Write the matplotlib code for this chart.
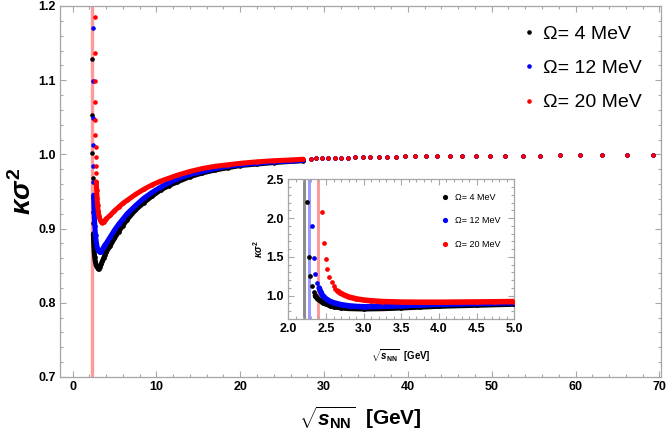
import matplotlib
matplotlib.use("Agg")
import matplotlib.pyplot as plt
from matplotlib.ticker import MultipleLocator, FormatStrFormatter

plt.rcParams['font.family'] = ['Liberation Sans', 'DejaVu Sans']
plt.rcParams['font.weight'] = 'bold'
plt.rcParams['axes.labelweight'] = 'bold'
plt.rcParams['mathtext.fontset'] = 'custom'
plt.rcParams['mathtext.rm'] = 'Liberation Sans:bold'
plt.rcParams['mathtext.it'] = 'Liberation Sans:italic:bold'
plt.rcParams['mathtext.bf'] = 'Liberation Sans:bold'

# ---- main panel data ----
labels = ['Ω= 4 MeV', 'Ω= 12 MeV', 'Ω= 20 MeV']
colors = ['black', 'blue', 'red']
crit_x = [2.21, 2.28, 2.40]          # vertical lines
crit_colors = ['#8c8c8c', '#9a9aff', '#ff9a9a']

# steep branch near the vertical line (separate dots)
black_steep_x = [2.36, 2.37, 2.37, 2.39, 2.40, 2.42, 2.45, 2.48]
black_steep_y = [1.129, 1.053, 1.002, 0.968, 0.942, 0.923, 0.907, 0.893]
blue_steep_x = [2.45, 2.42, 2.43, 2.45, 2.46, 2.48, 2.51]
blue_steep_y = [1.171, 1.099, 1.049, 1.012, 0.985, 0.963, 0.945]
red_steep_x = [2.64, 2.66, 2.68, 2.69, 2.71, 2.72, 2.74, 2.76, 2.78, 2.80, 2.83]
red_steep_y = [1.185, 1.137, 1.099, 1.070, 1.046, 1.026, 1.010, 0.997, 0.985,
               0.975, 0.963]

# dense part around the dip
black_dip_x = [2.48, 2.52, 2.57, 2.63, 2.70, 2.80, 2.92, 3.05, 3.12, 3.25,
               3.4, 3.55, 3.7, 3.85]
black_dip_y = [0.893, 0.881, 0.870, 0.862, 0.856, 0.851, 0.848, 0.846, 0.846,
               0.848, 0.852, 0.856, 0.860, 0.864]
blue_dip_x = [2.51, 2.55, 2.60, 2.66, 2.74, 2.84, 2.96, 3.1, 3.24, 3.4, 3.55,
              3.7, 3.85]
blue_dip_y = [0.945, 0.930, 0.916, 0.903, 0.891, 0.881, 0.874, 0.870, 0.868,
              0.869, 0.872, 0.875, 0.878]
red_dip_x = [2.83, 2.87, 2.92, 2.98, 3.05, 3.15, 3.28, 3.42, 3.55, 3.7, 3.85]
red_dip_y = [0.963, 0.952, 0.941, 0.932, 0.924, 0.917, 0.912, 0.909, 0.908,
             0.909, 0.911]

# rising part, common abscissa
rise_x = [4.0, 4.5, 5.0, 5.5, 6.0, 6.5, 7.5, 8.5, 9.5, 10.5, 11.5, 12.5, 14,
          15.5, 17, 18.5, 20, 22, 24, 26, 27.5]
black_rise_y = [0.868, 0.877, 0.887, 0.896, 0.904, 0.912, 0.925, 0.935, 0.944,
                0.952, 0.958, 0.963, 0.970, 0.975, 0.979, 0.982, 0.985, 0.987,
                0.989, 0.9905, 0.9915]
blue_rise_y = [0.880, 0.889, 0.898, 0.906, 0.913, 0.920, 0.931, 0.941, 0.949,
               0.956, 0.962, 0.967, 0.973, 0.977, 0.981, 0.984, 0.986, 0.988,
               0.990, 0.991, 0.992]
red_rise_y = [0.913, 0.918, 0.924, 0.929, 0.934, 0.938, 0.946, 0.953, 0.959,
              0.964, 0.968, 0.972, 0.977, 0.981, 0.984, 0.986, 0.988, 0.990,
              0.9915, 0.9925, 0.9935]

# tail: the three series sit on top of each other
tail_x = [28.4, 29.1, 29.8, 30.5, 31.3, 32.0, 32.8, 33.7, 34.6, 35.5, 36.5,
          37.5, 38.6, 39.7, 40.9, 42.2, 43.5, 45.0, 46.5, 48.1, 49.8, 51.6,
          53.7, 55.8, 58.1, 60.5, 63.2, 66.1, 69.3]
tail_y = [0.9942, 0.9945, 0.9948, 0.995, 0.9952, 0.9955, 0.9957, 0.996,
          0.9962, 0.9964, 0.9966, 0.9968, 0.997, 0.9972, 0.9974, 0.9975,
          0.9977, 0.9978, 0.998, 0.9981, 0.9982, 0.9983, 0.9984, 0.9985,
          0.9986, 0.9987, 0.9988, 0.9989, 0.999]

# ---- inset data ----
in_black_steep_x = [2.244, 2.275, 2.29, 2.31, 2.335, 2.36]
in_black_steep_y = [2.21, 1.50, 1.25, 1.12, 1.05, 1.00]
in_black_x = [2.36, 2.39, 2.42, 2.46, 2.51, 2.56, 2.6, 2.7, 2.8, 3.0, 3.25,
              3.5, 3.75, 4.0, 4.5, 5.0]
in_black_y = [1.00, 0.96, 0.94, 0.91, 0.89, 0.872, 0.86, 0.845, 0.837, 0.832,
              0.836, 0.845, 0.856, 0.867, 0.880, 0.893]
in_blue_steep_x = [2.31, 2.34, 2.36, 2.385, 2.41]
in_blue_steep_y = [1.90, 1.48, 1.28, 1.17, 1.10]
in_blue_x = [2.41, 2.43, 2.45, 2.5, 2.55, 2.6, 2.7, 2.8, 2.9, 3.0, 3.25, 3.5,
             3.75, 4.0, 4.5, 5.0]
in_blue_y = [1.10, 1.05, 1.01, 0.96, 0.93, 0.91, 0.885, 0.87, 0.862, 0.858,
             0.862, 0.871, 0.880, 0.889, 0.900, 0.910]
in_red_steep_x = [2.45, 2.48, 2.50, 2.52, 2.545, 2.575, 2.60, 2.625, 2.655]
in_red_steep_y = [2.08, 1.68, 1.47, 1.34, 1.245, 1.18, 1.13, 1.09, 1.06]
in_red_x = [2.655, 2.69, 2.75, 2.8, 2.9, 3.0, 3.1, 3.25, 3.5, 3.75, 4.0, 4.25,
            4.5, 4.75, 5.0]
in_red_y = [1.06, 1.035, 1.005, 0.985, 0.96, 0.945, 0.935, 0.925, 0.918, 0.916,
            0.916, 0.918, 0.920, 0.922, 0.925]

frame_col = '#a6a6a6'


def style_axes(ax, xmaj, xmin, ymaj, ymin, fs):
    for s in ax.spines.values():
        s.set_color(frame_col)
        s.set_linewidth(0.9)
    ax.xaxis.set_major_locator(MultipleLocator(xmaj))
    ax.xaxis.set_minor_locator(MultipleLocator(xmin))
    ax.yaxis.set_major_locator(MultipleLocator(ymaj))
    ax.yaxis.set_minor_locator(MultipleLocator(ymin))
    ax.tick_params(which='both', direction='in', top=True, right=True,
                   color=frame_col, width=0.8, labelsize=fs, pad=3)
    ax.tick_params(which='major', length=4)
    ax.tick_params(which='minor', length=2.5)


fig = plt.figure(figsize=(6.67, 4.45), dpi=100)
ax = fig.add_axes([60 / 667, 1 - 377 / 445, 601 / 667, 371 / 445])

# in the main panel only the last (red) band is visible
ax.axvline(crit_x[2] - 0.08, color=crit_colors[2], lw=2.4, zorder=1)

ms = 3.3
series = [
    (black_steep_x, black_steep_y, black_dip_x, black_dip_y, black_rise_y),
    (blue_steep_x, blue_steep_y, blue_dip_x, blue_dip_y, blue_rise_y),
    (red_steep_x, red_steep_y, red_dip_x, red_dip_y, red_rise_y),
]
for (sx, sy, dx, dy, ry), col, lab in zip(series, colors, labels):
    bx = dx + rise_x
    by = dy + ry
    ax.plot(bx, by, '-', color=col, lw=3.6, solid_capstyle='round', zorder=3)
    ax.plot(sx + bx + tail_x, sy + by + tail_y, 'o', color=col, ms=ms,
            mew=0, zorder=3, label=lab)

ax.set_xlim(-1.5, 70.2)
ax.set_ylim(0.7, 1.2)
style_axes(ax, 10, 2, 0.1, 0.02, 9)
ax.yaxis.set_major_formatter(FormatStrFormatter('%.1f'))
ax.set_ylabel(r'$\kappa\sigma^2$', fontsize=20, labelpad=1)
ax.set_xlabel(r'$\sqrt{s_{\rm NN}}$  [GeV]', fontsize=15, labelpad=8)

ax.legend(loc='upper right', frameon=False, prop={'size': 14,
          'weight': 'normal'}, handlelength=0.6, handletextpad=0.4,
          labelspacing=0.85, markerscale=1.0, borderaxespad=0.6)

# ---- inset ----
ins = fig.add_axes([288.3 / 667, 1 - 319 / 445, 226 / 667, 139.7 / 445])
for cx, cc in zip(crit_x, crit_colors):
    ins.axvline(cx, color=cc, lw=2.2, zorder=1)

ims = 3.4
inset_series = [
    (in_black_steep_x, in_black_steep_y, in_black_x, in_black_y),
    (in_blue_steep_x, in_blue_steep_y, in_blue_x, in_blue_y),
    (in_red_steep_x, in_red_steep_y, in_red_x, in_red_y),
]
for (sx, sy, dx, dy), col, lab in zip(inset_series, colors, labels):
    ins.plot(dx, dy, '-', color=col, lw=4.0, solid_capstyle='round', zorder=3)
    ins.plot(sx + dx, sy + dy, 'o', color=col, ms=ims, mew=0, zorder=3,
             label=lab)

ins.set_xlim(2.0, 5.0)
ins.set_ylim(0.7, 2.5)
style_axes(ins, 0.5, 0.1, 0.5, 0.1, 9)
ins.xaxis.set_major_formatter(FormatStrFormatter('%.1f'))
ins.yaxis.set_major_formatter(FormatStrFormatter('%.1f'))
ins.set_ylabel(r'$\kappa\sigma^2$', fontsize=7, labelpad=1)
ins.set_xlabel(r'$\sqrt{s_{\rm NN}}$  [GeV]', fontsize=7, labelpad=9)
ins.legend(loc='upper right', frameon=False, prop={'size': 6.5,
           'weight': 'normal'}, handlelength=0.6, handletextpad=0.8,
           labelspacing=1.6, markerscale=1.1, borderaxespad=1.1)

fig.savefig('out.png', dpi=100)
